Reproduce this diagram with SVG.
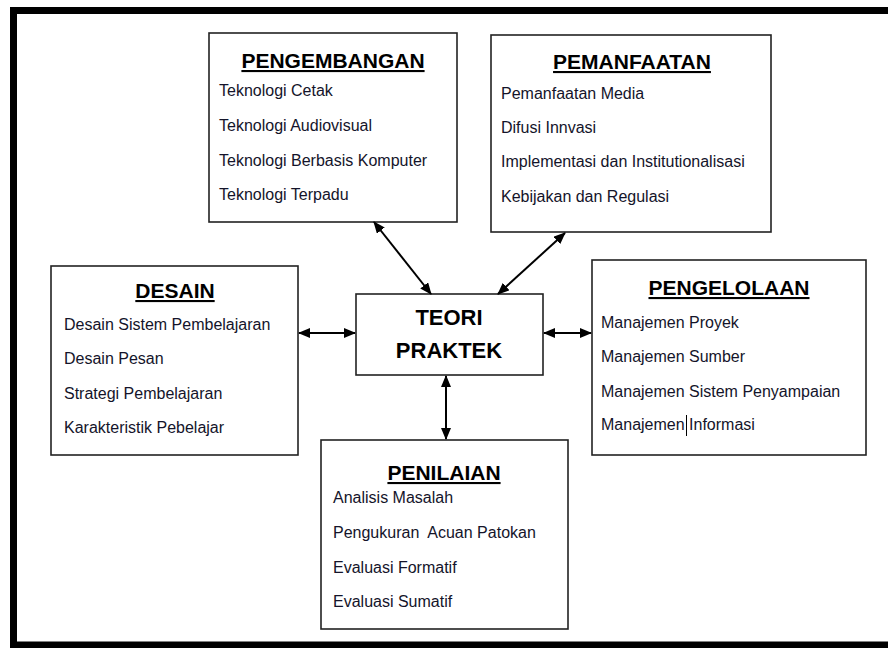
<svg xmlns="http://www.w3.org/2000/svg" width="888" height="648" viewBox="0 0 888 648">
<defs>
<style>
.box{fill:#fff;stroke:#222;stroke-width:1.6}
.title{font-family:"Liberation Sans",Arial,sans-serif;font-weight:bold;font-size:21px;fill:#000;text-anchor:middle;text-decoration:underline}
.item{font-family:"Liberation Sans",Arial,sans-serif;font-size:16px;fill:#14142a;white-space:pre}
.center{font-family:"Liberation Sans",Arial,sans-serif;font-weight:bold;font-size:22px;fill:#000;text-anchor:middle}
.conn{stroke:#000;stroke-width:2;fill:none;marker-start:url(#ah);marker-end:url(#ah)}
</style>
<marker id="ah" viewBox="0 0 12 10" refX="11" refY="5" markerWidth="12" markerHeight="10" markerUnits="userSpaceOnUse" orient="auto-start-reverse">
<path d="M0,0 L12,5 L0,10 Z" fill="#000"/>
</marker>
</defs>
<rect x="0" y="0" width="888" height="648" fill="#fff"/>
<path d="M888,10.5 H13.5 V645 H888" fill="none" stroke="#000" stroke-width="7"/>

<g id="pengembangan">
<rect class="box" x="209" y="33" width="248" height="189"/>
<text class="title" x="333" y="68">PENGEMBANGAN</text>
<text class="item" x="219" y="96">Teknologi Cetak</text>
<text class="item" x="219" y="131">Teknologi Audiovisual</text>
<text class="item" x="219" y="166">Teknologi Berbasis Komputer</text>
<text class="item" x="219" y="200">Teknologi Terpadu</text>
</g>

<g id="pemanfaatan">
<rect class="box" x="491" y="35" width="280" height="197"/>
<text class="title" x="632" y="69">PEMANFAATAN</text>
<text class="item" x="501" y="99">Pemanfaatan Media</text>
<text class="item" x="501" y="133">Difusi Innvasi</text>
<text class="item" x="501" y="167">Implementasi dan Institutionalisasi</text>
<text class="item" x="501" y="202">Kebijakan dan Regulasi</text>
</g>

<g id="desain">
<rect class="box" x="51" y="266" width="247" height="189"/>
<text class="title" x="175" y="298">DESAIN</text>
<text class="item" x="64" y="330">Desain Sistem Pembelajaran</text>
<text class="item" x="64" y="364">Desain Pesan</text>
<text class="item" x="64" y="399">Strategi Pembelajaran</text>
<text class="item" x="64" y="433">Karakteristik Pebelajar</text>
</g>

<g id="teori-praktek">
<rect class="box" x="356" y="294" width="187" height="81"/>
<text class="center" x="449" y="325">TEORI</text>
<text class="center" x="449" y="358">PRAKTEK</text>
</g>

<g id="pengelolaan">
<rect class="box" x="592" y="260" width="274" height="195"/>
<text class="title" x="729" y="295">PENGELOLAAN</text>
<text class="item" x="601" y="328">Manajemen Proyek</text>
<text class="item" x="601" y="362">Manajemen Sumber</text>
<text class="item" x="601" y="397">Manajemen Sistem Penyampaian</text>
<text class="item" x="601" y="430">Manajemen Informasi</text>
<line x1="686.5" y1="415" x2="686.5" y2="436" stroke="#000" stroke-width="1"/>
</g>

<g id="penilaian">
<rect class="box" x="321" y="440" width="247" height="189"/>
<text class="title" x="444" y="480">PENILAIAN</text>
<text class="item" x="333" y="503">Analisis Masalah</text>
<text class="item" x="333" y="538">Pengukuran  Acuan Patokan</text>
<text class="item" x="333" y="573">Evaluasi Formatif</text>
<text class="item" x="333" y="607">Evaluasi Sumatif</text>
</g>

<g id="connectors">
<line class="conn" x1="374" y1="222" x2="431" y2="294"/>
<line class="conn" x1="565" y1="233" x2="498" y2="294"/>
<line class="conn" x1="299" y1="333" x2="355" y2="333"/>
<line class="conn" x1="544" y1="333" x2="591" y2="333"/>
<line class="conn" x1="446" y1="376" x2="446" y2="439"/>
</g>
</svg>
